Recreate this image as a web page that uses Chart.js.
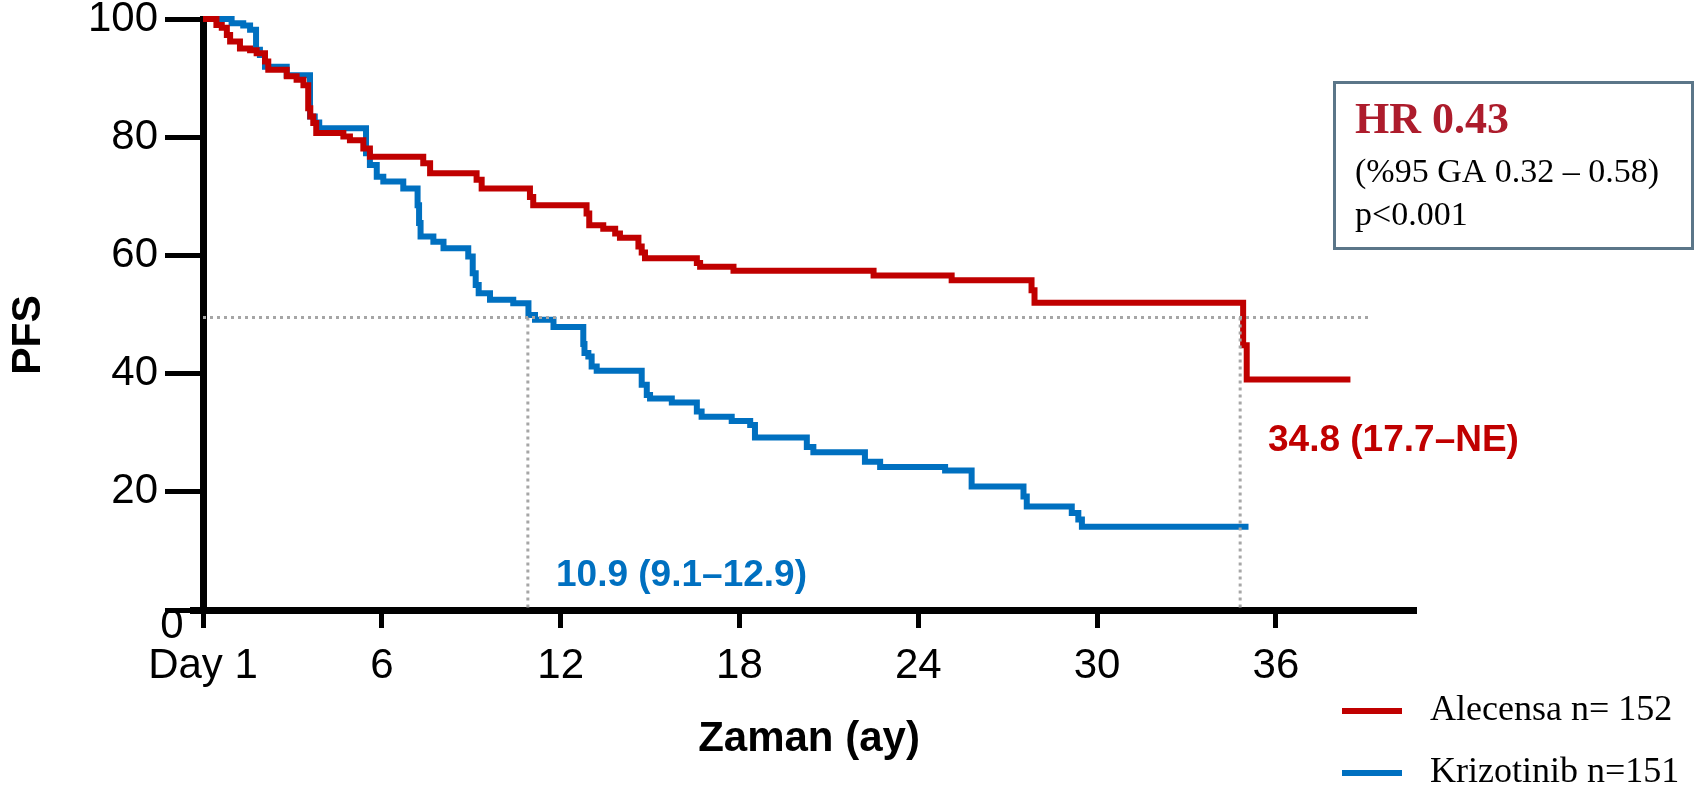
<!DOCTYPE html>
<html>
<head>
<meta charset="utf-8">
<script src="https://cdn.jsdelivr.net/npm/chart.js@4.4.1/dist/chart.umd.min.js"></script>
<style>
  html, body { margin: 0; padding: 0; background: #fff; }
  #pfsChart { display: block; }
</style>
</head>
<body>
<canvas id="pfsChart" width="1705" height="787"></canvas>
<script>
// Kaplan-Meier steps (month, PFS %)
const alecensaMonths = [0, 0.45, 0.63, 0.8, 0.91, 1.24, 1.58, 1.8, 2.08, 2.19, 2.81, 3.14, 3.37, 3.53, 3.6, 3.7, 3.8,
  4.71, 4.93, 5.38, 5.6, 7.39, 7.62, 9.18, 9.35, 10.97, 11.08, 12.87, 12.96, 13.43, 13.83, 13.99, 14.61, 14.72, 14.83,
  16.57, 16.68, 17.8, 22.5, 25.12, 27.8, 27.9, 34.9, 35.02, 38.5];
const alecensaPFS = [100, 99.0, 98.5, 97.3, 96.2, 95.0, 94.7, 94.2, 92.8, 91.4, 90.3, 89.7, 88.8, 84.9, 83.5, 82.4, 80.7,
  80.1, 79.5, 78.1, 76.7, 75.6, 73.9, 72.8, 71.3, 69.9, 68.5, 67.1, 65.1, 64.5, 63.7, 63.0, 61.5, 60.5, 59.5,
  58.7, 58.1, 57.4, 56.6, 55.8, 54.1, 52.0, 44.8, 39.0, 39.0];

const krizotinibMonths = [0, 0.96, 1.35, 1.58, 1.78, 1.91, 2.08, 2.81, 3.59, 3.75, 3.9, 5.47, 5.6, 5.83, 6.05, 6.72,
  7.2, 7.25, 7.3, 7.73, 8.07, 8.9, 9.05, 9.15, 9.25, 9.63, 10.41, 10.92, 11.14, 11.76, 12.76, 12.8, 12.93, 13.04, 13.21,
  14.72, 14.89, 15.0, 15.73, 16.57, 16.73, 17.74, 18.36, 18.52, 20.26, 20.48, 22.21, 22.72, 24.9, 25.79, 27.53, 27.64,
  29.15, 29.37, 29.49, 35.08];
const krizotinibPFS = [100, 99.3, 98.9, 98.2, 94.8, 93.9, 91.9, 90.5, 83.5, 82.5, 81.5, 77.3, 75.3, 73.3, 72.5, 71.3,
  68.5, 65.5, 63.2, 62.3, 61.2, 59.8, 57.0, 55.0, 53.6, 52.5, 51.9, 49.9, 49.1, 47.9, 45.0, 43.5, 42.9, 41.2, 40.5,
  38.1, 36.4, 35.8, 35.1, 33.6, 32.7, 32.0, 31.3, 29.2, 27.6, 26.7, 25.1, 24.2, 23.6, 20.9, 19.2, 17.5,
  16.4, 15.3, 14.1, 14.1];

const medianLevel = 49.5;
const medianGuideEnd = 39.1;
const medianMonths = [10.9, 34.8];

const xTicks = [0, 6, 12, 18, 24, 30, 36];
const xTickLabels = ['Day 1', '6', '12', '18', '24', '30', '36'];
const yTicks = [0, 20, 40, 60, 80, 100];

const RED = '#C00000';
const BLUE = '#0070C0';
const GUIDE = '#a6a6a6';
const SANS = '"Liberation Sans", Arial, sans-serif';
const SERIF = '"Liberation Serif", "Times New Roman", serif';

const toPoints = (xs, ys) => xs.map((x, i) => ({ x: x, y: ys[i] }));

const guideStyle = {
  borderColor: GUIDE,
  borderWidth: 3,
  borderDash: [3, 4],
  pointRadius: 0,
  fill: false,
  order: 1,
  clip: false,
};

const overlay = {
  id: 'overlay',
  afterDraw(chart) {
    const ctx = chart.ctx;
    const y = chart.scales.y;
    const y0 = y.getPixelForValue(0);
    ctx.save();

    // little stub of the x axis left of the y axis
    ctx.fillStyle = '#000';
    ctx.fillRect(190, y0 - 3, 14, 7);

    // "0" sits below the corner
    ctx.font = '42px ' + SANS;
    ctx.textAlign = 'center';
    ctx.textBaseline = 'middle';
    ctx.fillText('0', 172, 626);

    // axis titles
    ctx.font = 'bold 42px ' + SANS;
    ctx.fillText('Zaman (ay)', 809, 739);
    ctx.save();
    ctx.translate(29, 335);
    ctx.rotate(-Math.PI / 2);
    ctx.font = 'bold 41px ' + SANS;
    ctx.fillText('PFS', 0, 0);
    ctx.restore();

    // medians
    ctx.font = 'bold 37px ' + SANS;
    ctx.textAlign = 'left';
    ctx.fillStyle = BLUE;
    ctx.fillText('10.9 (9.1\u201312.9)', 556, 576);
    ctx.fillStyle = RED;
    ctx.fillText('34.8 (17.7\u2013NE)', 1268, 441);

    // HR box
    ctx.strokeStyle = '#5b7689';
    ctx.lineWidth = 3;
    ctx.strokeRect(1334.5, 82.5, 358, 166);
    ctx.textBaseline = 'alphabetic';
    ctx.fillStyle = '#ad1c2c';
    ctx.font = 'bold 44px ' + SERIF;
    ctx.fillText('HR 0.43', 1355, 133);
    ctx.fillStyle = '#000';
    ctx.font = '34px ' + SERIF;
    ctx.fillText('(%95 GA 0.32 \u2013 0.58)', 1355, 182);
    ctx.fillText('p<0.001', 1355, 225);

    // legend
    ctx.fillStyle = RED;
    ctx.fillRect(1342, 708, 60, 6);
    ctx.fillStyle = BLUE;
    ctx.fillRect(1342, 770, 60, 6);
    ctx.fillStyle = '#000';
    ctx.font = '36px ' + SERIF;
    ctx.textBaseline = 'middle';
    ctx.fillText('Alecensa n= 152', 1430, 711);
    ctx.fillText('Krizotinib n=151', 1430, 773);

    ctx.restore();
  }
};

new Chart(document.getElementById('pfsChart'), {
  type: 'line',
  data: {
    datasets: [
      {
        label: 'Krizotinib n=151',
        data: toPoints(krizotinibMonths, krizotinibPFS),
        borderColor: BLUE,
        borderWidth: 6,
        stepped: true,
        pointRadius: 0,
        fill: false,
        order: 3,
        clip: false,
      },
      {
        label: 'Alecensa n= 152',
        data: toPoints(alecensaMonths, alecensaPFS),
        borderColor: RED,
        borderWidth: 6,
        stepped: true,
        pointRadius: 0,
        fill: false,
        order: 2,
        clip: false,
      },
      Object.assign({ label: 'median', data: [{ x: 0, y: medianLevel }, { x: medianGuideEnd, y: medianLevel }] }, guideStyle),
      Object.assign({ label: 'median K', data: [{ x: medianMonths[0], y: medianLevel }, { x: medianMonths[0], y: 0 }] }, guideStyle),
      Object.assign({ label: 'median A', data: [{ x: medianMonths[1], y: medianLevel }, { x: medianMonths[1], y: 0 }] }, guideStyle),
    ],
  },
  options: {
    responsive: false,
    animation: false,
    layout: { padding: { top: 19, right: 289, left: 0, bottom: 0 } },
    plugins: { legend: { display: false }, tooltip: { enabled: false } },
    scales: {
      x: {
        type: 'linear',
        min: 0,
        max: 40.7,
        afterBuildTicks: (scale) => { scale.ticks = xTicks.map(v => ({ value: v })); },
        afterFit: (scale) => { scale.height = 177; scale.paddingLeft = 0; scale.paddingRight = 0; },
        grid: { drawOnChartArea: false, drawTicks: true, tickLength: 18, tickWidth: 5, color: '#000' },
        border: { display: true, width: 7, color: '#000' },
        ticks: {
          font: { family: SANS, size: 42 },
          color: '#000',
          padding: 13,
          maxRotation: 0,
          autoSkip: false,
          callback: (v) => xTickLabels[xTicks.indexOf(v)],
        },
      },
      y: {
        min: 0,
        max: 100,
        afterBuildTicks: (scale) => { scale.ticks = yTicks.map(v => ({ value: v })); },
        afterFit: (scale) => { scale.width = 203; scale.paddingTop = 0; scale.paddingBottom = 0; },
        grid: { drawOnChartArea: false, drawTicks: true, tickLength: 38, tickWidth: 5, color: '#000' },
        border: { display: true, width: 7, color: '#000' },
        ticks: {
          font: { family: SANS, size: 42 },
          color: '#000',
          padding: 7,
          callback: (v) => (v === 0 ? '' : String(v)),
        },
      },
    },
  },
  plugins: [overlay],
});
</script>
</body>
</html>
